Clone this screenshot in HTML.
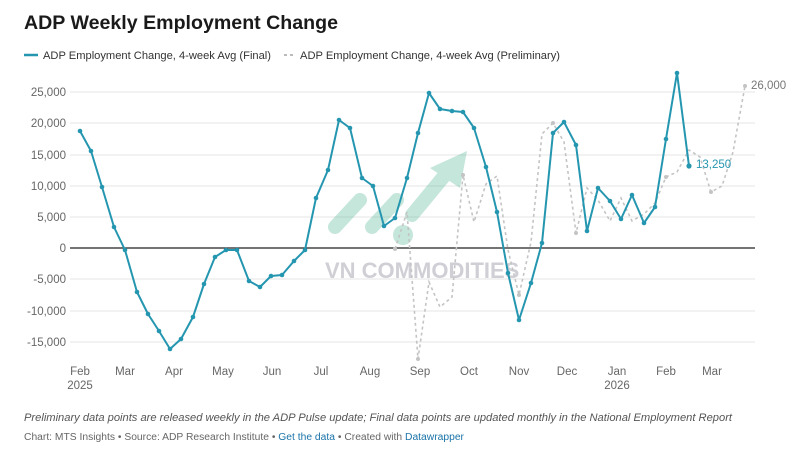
<!DOCTYPE html>
<html><head><meta charset="utf-8"><style>
body{margin:0;background:#fff;font-family:"Liberation Sans",sans-serif;}
</style></head><body>
<svg width="800" height="451" viewBox="0 0 800 451" xmlns="http://www.w3.org/2000/svg" font-family="Liberation Sans, sans-serif">
<text x="24" y="29" font-size="19.5" font-weight="bold" fill="#1a1a1a" textLength="314" lengthAdjust="spacingAndGlyphs">ADP Weekly Employment Change</text>
<line x1="24" y1="55" x2="38" y2="55" stroke="#2596b0" stroke-width="2.5"/>
<text x="43" y="59" font-size="11.2" fill="#333" textLength="228" lengthAdjust="spacingAndGlyphs">ADP Employment Change, 4-week Avg (Final)</text>
<line x1="284" y1="55" x2="296" y2="55" stroke="#bbb" stroke-width="2" stroke-dasharray="3,3"/>
<text x="300" y="59" font-size="11.2" fill="#333" textLength="260" lengthAdjust="spacingAndGlyphs">ADP Employment Change, 4-week Avg (Preliminary)</text>
<g stroke="#e5e5e5" stroke-width="1">
<line x1="70" y1="92" x2="755" y2="92"/><line x1="70" y1="123" x2="755" y2="123"/><line x1="70" y1="155" x2="755" y2="155"/><line x1="70" y1="186" x2="755" y2="186"/><line x1="70" y1="217" x2="755" y2="217"/><line x1="70" y1="279" x2="755" y2="279"/><line x1="70" y1="311" x2="755" y2="311"/><line x1="70" y1="342" x2="755" y2="342"/>
</g>
<line x1="70" y1="248" x2="755" y2="248" stroke="#222" stroke-width="1.2"/>
<g font-size="11.5" fill="#666" text-anchor="end">
<text x="66" y="96">25,000</text><text x="66" y="127">20,000</text><text x="66" y="159">15,000</text><text x="66" y="190">10,000</text><text x="66" y="221">5,000</text><text x="66" y="252">0</text><text x="66" y="283">-5,000</text><text x="66" y="315">-10,000</text><text x="66" y="346">-15,000</text>
</g>
<g font-size="11.5" fill="#666" text-anchor="middle">
<text x="80" y="375">Feb</text><text x="80" y="389">2025</text><text x="125" y="375">Mar</text><text x="174" y="375">Apr</text><text x="223" y="375">May</text><text x="272" y="375">Jun</text><text x="321" y="375">Jul</text><text x="370" y="375">Aug</text><text x="420" y="375">Sep</text><text x="469" y="375">Oct</text><text x="519" y="375">Nov</text><text x="567" y="375">Dec</text><text x="617" y="375">Jan</text><text x="617" y="389">2026</text><text x="666" y="375">Feb</text><text x="712" y="375">Mar</text>
</g>
<g opacity="0.35">
<line x1="335" y1="227" x2="360" y2="200" stroke="#5bb89a" stroke-width="14" stroke-linecap="round"/>
<line x1="372" y1="227" x2="397" y2="200" stroke="#5bb89a" stroke-width="14" stroke-linecap="round"/>
<circle cx="403" cy="235" r="10" fill="#5bb89a"/>
<line x1="412" y1="215" x2="445" y2="175" stroke="#5bb89a" stroke-width="14" stroke-linecap="round"/>
<polygon points="430,168 467,151 460,188" fill="#5bb89a"/>
<text x="325" y="278" font-size="22" font-weight="bold" fill="#778">VN COMMODITIES</text>
</g>
<polyline fill="none" stroke="#c4c4c4" stroke-width="1.6" stroke-dasharray="3,3" points="395,249 407,212 418,359 429,282 440,307 452,297 463,175 474,222 486,184 497,176 508,250 519,295 531,242 542,134 553,123 564,142 576,233 587,188 598,200 610,221 621,198 632,221 644,214 655,203 666,177 677,172 689,150 700,157 711,192 722,186 733,152 745,86"/>
<g fill="#c4c4c4"><circle cx="395" cy="249" r="2"/><circle cx="418" cy="359" r="2"/><circle cx="463" cy="175" r="2"/><circle cx="519" cy="295" r="2"/><circle cx="553" cy="123" r="2"/><circle cx="576" cy="233" r="2"/><circle cx="666" cy="177" r="2"/><circle cx="711" cy="192" r="2"/><circle cx="745" cy="86" r="2"/></g>
<polyline fill="none" stroke="#2596b0" stroke-width="2" stroke-linejoin="round" points="80,131 91,151 102,187 114,227 125,250 137,292 148,314 159,331 170,349 181,339 193,317 204,284 215,257 226,250 237,250 249,281 260,287 271,276 282,275 294,261 305,250 316,198 328,170 339,120 350,128 362,178 373,186 384,226 395,218 407,178 418,133 429,93 440,109 452,111 463,112 474,128 486,167 497,212 508,273 519,320 531,283 542,243 553,133 564,122 576,145 587,231 598,188 610,201 621,219 632,195 644,223 655,207 666,139 677,73 689,166"/>
<g fill="#2596b0">
<circle cx="80" cy="131" r="2.3"/><circle cx="91" cy="151" r="2.3"/><circle cx="102" cy="187" r="2.3"/><circle cx="114" cy="227" r="2.3"/><circle cx="125" cy="250" r="2.3"/><circle cx="137" cy="292" r="2.3"/><circle cx="148" cy="314" r="2.3"/><circle cx="159" cy="331" r="2.3"/><circle cx="170" cy="349" r="2.3"/><circle cx="181" cy="339" r="2.3"/><circle cx="193" cy="317" r="2.3"/><circle cx="204" cy="284" r="2.3"/><circle cx="215" cy="257" r="2.3"/><circle cx="226" cy="250" r="2.3"/><circle cx="237" cy="250" r="2.3"/><circle cx="249" cy="281" r="2.3"/><circle cx="260" cy="287" r="2.3"/><circle cx="271" cy="276" r="2.3"/><circle cx="282" cy="275" r="2.3"/><circle cx="294" cy="261" r="2.3"/><circle cx="305" cy="250" r="2.3"/><circle cx="316" cy="198" r="2.3"/><circle cx="328" cy="170" r="2.3"/><circle cx="339" cy="120" r="2.3"/><circle cx="350" cy="128" r="2.3"/><circle cx="362" cy="178" r="2.3"/><circle cx="373" cy="186" r="2.3"/><circle cx="384" cy="226" r="2.3"/><circle cx="395" cy="218" r="2.3"/><circle cx="407" cy="178" r="2.3"/><circle cx="418" cy="133" r="2.3"/><circle cx="429" cy="93" r="2.3"/><circle cx="440" cy="109" r="2.3"/><circle cx="452" cy="111" r="2.3"/><circle cx="463" cy="112" r="2.3"/><circle cx="474" cy="128" r="2.3"/><circle cx="486" cy="167" r="2.3"/><circle cx="497" cy="212" r="2.3"/><circle cx="508" cy="273" r="2.3"/><circle cx="519" cy="320" r="2.3"/><circle cx="531" cy="283" r="2.3"/><circle cx="542" cy="243" r="2.3"/><circle cx="553" cy="133" r="2.3"/><circle cx="564" cy="122" r="2.3"/><circle cx="576" cy="145" r="2.3"/><circle cx="587" cy="231" r="2.3"/><circle cx="598" cy="188" r="2.3"/><circle cx="610" cy="201" r="2.3"/><circle cx="621" cy="219" r="2.3"/><circle cx="632" cy="195" r="2.3"/><circle cx="644" cy="223" r="2.3"/><circle cx="655" cy="207" r="2.3"/><circle cx="666" cy="139" r="2.3"/><circle cx="677" cy="73" r="2.3"/><circle cx="689" cy="166" r="2.6"/>
</g>
<text x="696" y="168" font-size="11.5" fill="#2596b0">13,250</text>
<text x="751" y="89" font-size="11.5" fill="#777">26,000</text>
<text x="24" y="421" font-size="11.2" font-style="italic" fill="#555" textLength="708" lengthAdjust="spacingAndGlyphs">Preliminary data points are released weekly in the ADP Pulse update; Final data points are updated monthly in the National Employment Report</text>
<text x="24" y="440" font-size="10" fill="#666" textLength="440" lengthAdjust="spacingAndGlyphs">Chart: MTS Insights • Source: ADP Research Institute • <tspan fill="#1a73a8">Get the data</tspan> • Created with <tspan fill="#1a73a8">Datawrapper</tspan></text>
</svg>
</body></html>
